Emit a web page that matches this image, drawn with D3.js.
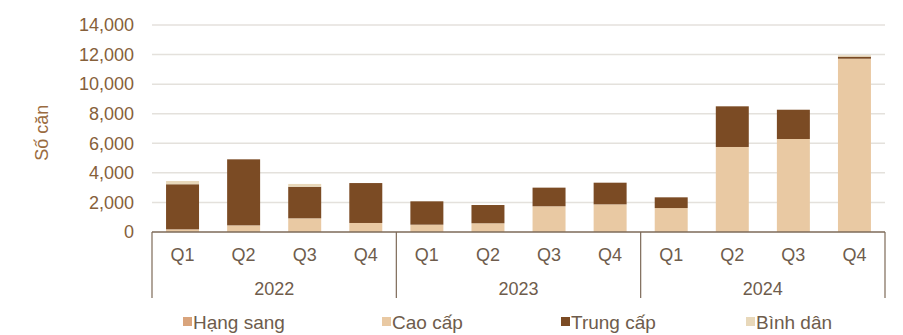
<!DOCTYPE html>
<html>
<head>
<meta charset="utf-8">
<script src="https://cdn.jsdelivr.net/npm/d3@7/dist/d3.min.js"></script>
<style>
  html, body { margin: 0; padding: 0; background: #fff; }
  svg { display: block; font-family: "Liberation Sans", Arial, sans-serif; }
</style>
</head>
<body>
<div id="chart"></div>
<script>
// Quarters and years along the x axis
const quarters = ["Q1", "Q2", "Q3", "Q4"];
const years = ["2022", "2023", "2024"];

// Supply by segment (units), one value per quarter, 2022 Q1 .. 2024 Q4
const hangSang  = [0, 0, 0, 0, 0, 0, 0, 0, 0, 0, 0, 0];
const caoCap    = [180, 450, 925, 610, 495, 590, 1740, 1870, 1620, 5750, 6290, 11720];
const trungCap  = [3050, 4465, 2135, 2700, 1580, 1235, 1260, 1465, 725, 2750, 1980, 140];
const binhDan   = [220, 0, 190, 0, 0, 0, 0, 0, 0, 0, 0, 90];

const seriesNames = ["Hạng sang", "Cao cấp", "Trung cấp", "Bình dân"];
const seriesColors = ["#d9a47c", "#e9c9a3", "#7b4b24", "#e8d8ba"];
const yTicks = [0, 2000, 4000, 6000, 8000, 10000, 12000, 14000];

const W = 903, H = 335;
const margin = { left: 152, right: 18, top: 25, bottom: 103 };
const plotW = W - margin.left - margin.right;
const plotH = H - margin.top - margin.bottom;

const rows = [];
years.forEach((yr, yi) => quarters.forEach((q, qi) => {
  const i = yi * 4 + qi;
  rows.push({ key: yr + q, year: yr, quarter: q,
    "Hạng sang": hangSang[i], "Cao cấp": caoCap[i],
    "Trung cấp": trungCap[i], "Bình dân": binhDan[i] });
}));

const svg = d3.select("#chart").append("svg").attr("width", W).attr("height", H);
const g = svg.append("g").attr("transform", `translate(${margin.left},${margin.top})`);

const x = d3.scaleBand().domain(rows.map(d => d.key)).range([0, plotW])
  .paddingInner(0.46).paddingOuter(0.23);
const y = d3.scaleLinear().domain([0, 14000]).range([plotH, 0]);

// Horizontal gridlines
g.append("g").selectAll("line").data(yTicks.filter(t => t > 0)).join("line")
  .attr("x1", 0).attr("x2", plotW)
  .attr("y1", d => y(d)).attr("y2", d => y(d))
  .attr("stroke", "#e4e1dc").attr("stroke-width", 1.5);

// Y axis labels
const yAxis = g.append("g").call(d3.axisLeft(y).tickValues(yTicks)
  .tickFormat(d3.format(",")).tickSize(0).tickPadding(18));
yAxis.select(".domain").remove();
yAxis.selectAll("text").attr("fill", "#86603a").attr("font-size", 18)
  .attr("font-family", "'Liberation Sans', Arial, sans-serif");

// Y axis title
svg.append("text")
  .attr("transform", `translate(48,${margin.top + plotH * 0.52}) rotate(-90)`)
  .attr("text-anchor", "middle").attr("fill", "#9a6b40").attr("font-size", 18)
  .text("Số căn");

// Stacked bars
const stack = d3.stack().keys(seriesNames);
const stacked = stack(rows);
g.append("g").selectAll("g").data(stacked).join("g")
  .attr("fill", (d, i) => seriesColors[i])
  .selectAll("rect").data(d => d).join("rect")
  .attr("x", d => x(d.data.key))
  .attr("width", x.bandwidth())
  .attr("y", d => y(d[1]))
  .attr("height", d => Math.max(0, y(d[0]) - y(d[1])));

// Category axis: baseline, group box and labels
const axisColor = "#7d6a58";
const boxBottom = plotH + 66;
g.append("line").attr("x1", 0).attr("x2", plotW).attr("y1", plotH).attr("y2", plotH)
  .attr("stroke", axisColor).attr("stroke-width", 1.5);

const groupW = plotW / years.length;
g.append("g").selectAll("line").data(d3.range(years.length + 1)).join("line")
  .attr("x1", i => i * groupW).attr("x2", i => i * groupW)
  .attr("y1", plotH).attr("y2", boxBottom)
  .attr("stroke", axisColor).attr("stroke-width", 1.2);

g.append("g").selectAll("text").data(rows).join("text")
  .attr("x", d => x(d.key) + x.bandwidth() / 2)
  .attr("y", plotH + 29)
  .attr("text-anchor", "middle").attr("fill", "#6e5c4c").attr("font-size", 18)
  .text(d => d.quarter);

g.append("g").selectAll("text").data(years).join("text")
  .attr("x", (d, i) => (i + 0.5) * groupW)
  .attr("y", plotH + 63)
  .attr("text-anchor", "middle").attr("fill", "#6e5c4c").attr("font-size", 18)
  .text(d => d);

// Legend
const legendX = [183, 382, 561, 746];
const legend = svg.append("g").selectAll("g").data(seriesNames).join("g")
  .attr("transform", (d, i) => `translate(${legendX[i]},322)`);
legend.append("rect").attr("x", 0).attr("y", -5).attr("width", 9).attr("height", 9)
  .attr("fill", (d, i) => seriesColors[i]);
legend.append("text").attr("x", 10).attr("y", 0).attr("dy", "0.35em")
  .attr("fill", "#6e5c4c").attr("font-size", 19).text(d => d);
</script>
</body>
</html>
